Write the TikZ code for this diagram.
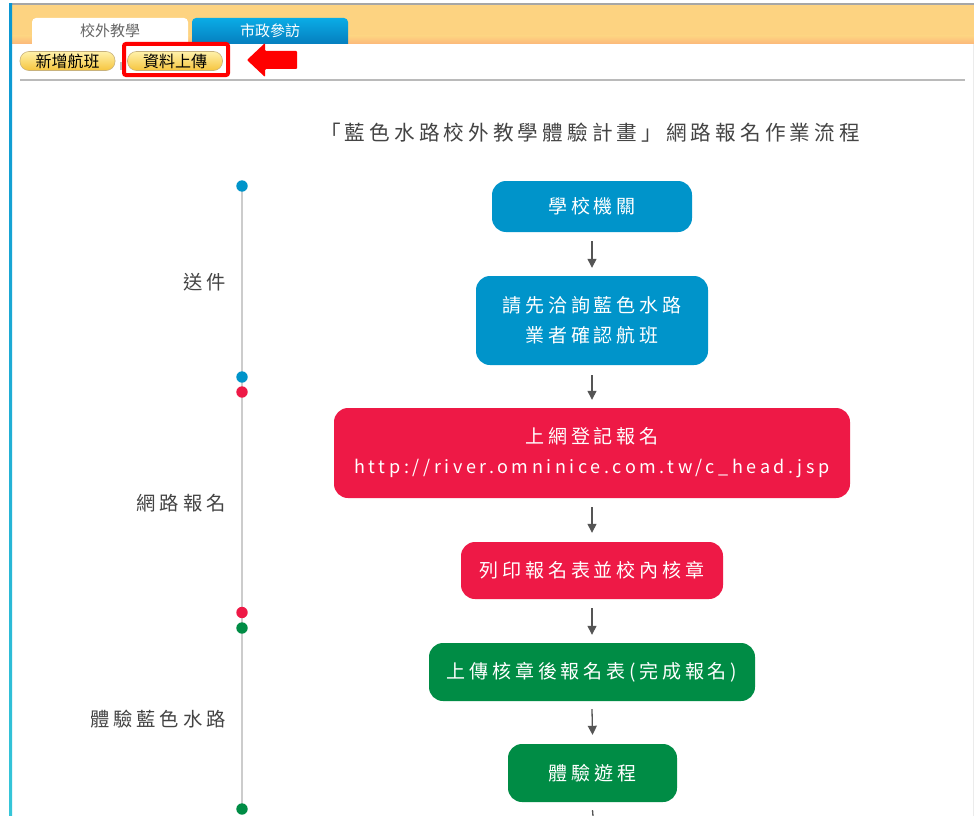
\documentclass[tikz,border=0pt]{standalone}
\usepackage{fontspec}
\setmainfont{Noto Sans CJK TC}
\newfontfamily\spacedfont[LetterSpace=20]{Noto Sans CJK TC}
\usetikzlibrary{arrows.meta}
\definecolor{fblue}{HTML}{0094CA}
\definecolor{fred}{HTML}{EE1946}
\definecolor{fgreen}{HTML}{008C45}
\definecolor{orTop}{HTML}{FDD381}
\definecolor{orBot}{HTML}{FCB87A}
\definecolor{tabTop}{HTML}{0AACE6}
\definecolor{tabBot}{HTML}{0470B2}
\definecolor{btnTop}{HTML}{FFF1AA}
\definecolor{btnBot}{HTML}{F6C53E}
\definecolor{btnLine}{HTML}{C8B27C}
\definecolor{txtgray}{HTML}{444444}
\definecolor{arrgray}{HTML}{555555}
\definecolor{tlgray}{HTML}{CCCCCC}
\definecolor{barTop}{HTML}{0A96D2}
\definecolor{barBot}{HTML}{36C6D8}
\begin{document}
\begin{tikzpicture}[x=1pt,y=-1pt,
  flowbox/.style={rectangle, rounded corners=14pt, inner sep=0pt, text=white, align=center,
    font=\spacedfont\fontsize{19}{30}\selectfont},
  bluebox/.style={flowbox, fill=fblue},
  redbox/.style={flowbox, fill=fred},
  greenbox/.style={flowbox, fill=fgreen},
  flowarrow/.style={draw=arrgray, line width=1.3pt, -{Triangle[width=9pt,length=9pt]}},
  tldot/.style={circle, inner sep=0pt, minimum size=11.4pt},
  phase/.style={anchor=east, text=txtgray, font=\spacedfont\fontsize{19.3}{22}\selectfont},
  btn/.style={rectangle, rounded corners=9pt, inner sep=0pt, minimum width=95pt, minimum height=19pt,
    top color=btnTop, bottom color=btnBot, draw=btnLine, line width=0.6pt,
    font=\fontsize{16}{16}\selectfont},
  tabtext/.style={font=\fontsize{15}{15}\selectfont}
]
\useasboundingbox (0,0) rectangle (974,816);
\fill[white] (0,0) rectangle (974,816);
% top band
\fill[orTop] (12,5) rectangle (974,36);
\shade[top color=orTop, bottom color=orBot] (12,36) rectangle (974,44);
% tabs
\fill[white, rounded corners=4pt] (32,18) rectangle (188,52);
\shade[top color=tabTop, bottom color=tabBot, rounded corners=4pt] (192,18) rectangle (348,52);
\fill[white] (12,44) rectangle (973,816);
\node[tabtext, text=black!60] (tab1) at (110,31) {校外教學};
\node[tabtext, text=white] (tab2) at (270,31) {市政參訪};
% frame lines
\draw[black!35, line width=1.5pt] (10,4) -- (974,4);
\shade[top color=barTop, bottom color=barBot] (9,4) rectangle (12,816);
\draw[black!8, line width=1pt] (973.5,44) -- (973.5,816);
% buttons
\node[btn] (bt1) at (67.5,61) {新增航班};
\fill[black!25] (119.5,62) rectangle (121.5,70);
\node[btn] (bt2) at (175,61) {資料上傳};
\node[draw=red, line width=4pt, rounded corners=2pt, inner sep=0pt,
  minimum width=104pt, minimum height=31pt] (hl) at (176,59.5) {};
\fill[red, rounded corners=1pt] (247,60) -- (265,43) -- (265,51) -- (297,51) -- (297,69) -- (265,69) -- (265,77) -- cycle;
\draw[black!27, line width=2pt] (20,80) -- (965,80);
% title
\node[text=txtgray, font=\spacedfont\fontsize{20.6}{22}\selectfont] (title) at (590,133)
  {「藍色水路校外教學體驗計畫」網路報名作業流程};
% timeline
\coordinate (t1) at (242,186);
\coordinate (t6) at (242,809);
\draw[tlgray, line width=1.3pt] (t1) -- (t6);
\node[tldot, fill=fblue] (d1) at (242,186) {};
\node[tldot, fill=fblue] (d2) at (242,377) {};
\node[tldot, fill=fred] (d3) at (242,392) {};
\node[tldot, fill=fred] (d4) at (242,612.5) {};
\node[tldot, fill=fgreen] (d5) at (242,628) {};
\node[tldot, fill=fgreen] (d6) at (242,809) {};
\node[phase] (p1) at (229,282) {送件};
\node[phase] (p2) at (229,503) {網路報名};
\node[phase] (p3) at (229,719) {體驗藍色水路};
% flow boxes
\node[bluebox, minimum width=200pt, minimum height=51pt] (b1) at (592,206.5) {學校機關};
\node[bluebox, minimum width=232pt, minimum height=89pt] (b2) at (592,320.5) {請先洽詢藍色水路\\業者確認航班};
\node[redbox, minimum width=516pt, minimum height=90pt] (b3) at (592,453)
  {上網登記報名\\{\fontsize{18}{30}\selectfont http://river.omninice.com.tw/c\_head.jsp}};
\node[redbox, minimum width=262pt, minimum height=57pt] (b4) at (592,570.5) {列印報名表並校內核章};
\node[greenbox, minimum width=326pt, minimum height=58pt] (b5) at (592,672) {上傳核章後報名表(完成報名)};
\node[greenbox, minimum width=169pt, minimum height=58pt] (b6) at (592.5,773) {體驗遊程};
\coordinate (bend) at (593,816);
% arrows
\draw[flowarrow] ([yshift=-9pt]b1.south) -- ([yshift=8pt]b2.north);
\draw[flowarrow] ([yshift=-10pt]b2.south) -- ([yshift=8pt]b3.north);
\draw[flowarrow] ([yshift=-9pt]b3.south) -- ([yshift=9pt]b4.north);
\draw[flowarrow] ([yshift=-9pt]b4.south) -- ([yshift=8pt]b5.north);
\draw[flowarrow] ([yshift=-8pt]b5.south) -- ([yshift=9pt]b6.north);
\draw[draw=arrgray, line width=1.3pt] ([yshift=-8pt]b6.south) -- (bend);
\end{tikzpicture}
\end{document}
